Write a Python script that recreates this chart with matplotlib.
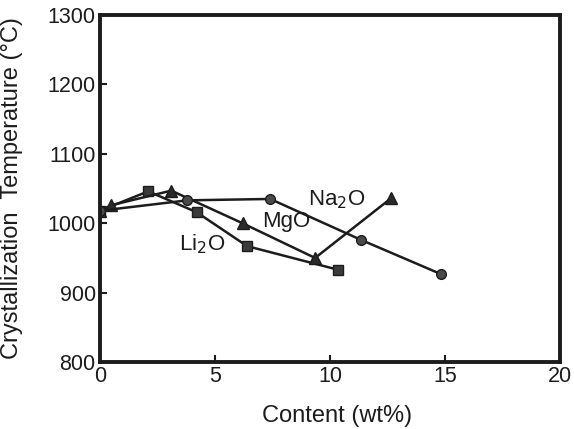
import matplotlib
matplotlib.use("Agg")
import matplotlib.pyplot as plt

plt.rcParams['font.family'] = ['Liberation Sans', 'DejaVu Sans']

li2o_x = [0, 2.1, 4.2, 6.4, 10.35]
li2o_y = [1018, 1046, 1016, 967, 933]
mgo_x = [0, 0.5, 3.1, 6.2, 9.35, 12.65]
mgo_y = [1018, 1026, 1047, 1000, 950, 1036]
na2o_x = [0, 3.8, 7.4, 11.35, 14.8]
na2o_y = [1018, 1033, 1035, 976, 927]

xticks = [0, 5, 10, 15, 20]
yticks = [800, 900, 1000, 1100, 1200, 1300]

ink = '#1c1c1c'
fig = plt.figure(figsize=(5.74, 4.29), dpi=100)
ax = fig.add_axes([0.174, 0.156, 0.802, 0.809])

ax.plot(li2o_x, li2o_y, color=ink, lw=1.8, marker='s', ms=7, mfc='#3a3a3a', mec=ink)
ax.plot(mgo_x, mgo_y, color=ink, lw=1.8, marker='^', ms=8.5, mfc='#2a2a2a', mec=ink)
ax.plot(na2o_x, na2o_y, color=ink, lw=1.8, marker='o', ms=7, mfc='#4a4a4a', mec=ink)

ax.text(9.05, 1026, 'Na$_2$O', fontsize=16, color=ink)
ax.text(7.05, 995, 'MgO', fontsize=16, color=ink)
ax.text(3.45, 961, 'Li$_2$O', fontsize=16, color=ink)

ax.set_xlim(0, 20)
ax.set_ylim(800, 1300)
ax.set_xticks(xticks)
ax.set_yticks(yticks)
ax.tick_params(direction='in', length=5, width=1.5, labelsize=15.5, colors=ink)
ax.tick_params(axis='x', pad=3)
ax.tick_params(axis='y', pad=3)
for s in ax.spines.values():
    s.set_linewidth(2.8)
    s.set_color(ink)

ax.set_xlabel('Content (wt%)', fontsize=17, color=ink)
ax.xaxis.set_label_coords(0.515, -0.125)
ax.set_ylabel('Crystallization  Temperature (°C)', fontsize=17, color=ink)
ax.yaxis.set_label_coords(-0.168, 0.5)

fig.savefig('out.png', dpi=100)
